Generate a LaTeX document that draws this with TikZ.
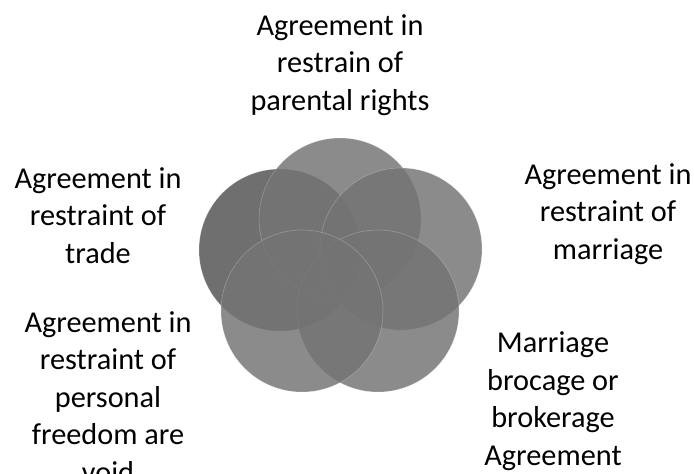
\documentclass[tikz,border=0pt]{standalone}
\usepackage{fontspec}
\setmainfont{Carlito}
\begin{document}
\begin{tikzpicture}[x=1pt,y=-1pt,
  petal/.style={circle,minimum size=162pt,inner sep=0pt,fill=petalgray,fill opacity=0.83,draw=white,draw opacity=0.25,line width=0.6pt},
  darkpetal/.style={petal,fill=petaldark},
  label/.style={align=center,inner sep=0pt,anchor=base,font=\fontsize{30.3}{37.5}\selectfont,text=black}]
\definecolor{petalgray}{gray}{0.455}
\definecolor{petaldark}{gray}{0.32}
\useasboundingbox[fill=white] (0,0) rectangle (694,474);
% circles
\node[darkpetal] (cl) at (280,250) {};
\node[petal] (ct) at (340,219) {};
\node[petal] (cr) at (401,249) {};
\node[petal] (cbr) at (378,311) {};
\node[petal] (cbl) at (302,311) {};
% labels (anchor = baseline of last line)
\node[label] (lt) at (340,110) {Agreement in\\restrain of\\parental rights};
\node[label] (ll) at (98,263) {Agreement in\\restraint of\\trade};
\node[label] (lr) at (608,259) {Agreement in\\restraint of\\marriage};
\node[label] (lbl) at (108,482) {Agreement in\\restraint of\\personal\\freedom are\\void};
\node[label] (lbr) at (553,465) {Marriage\\brocage or\\brokerage\\Agreement};
\end{tikzpicture}
\end{document}
